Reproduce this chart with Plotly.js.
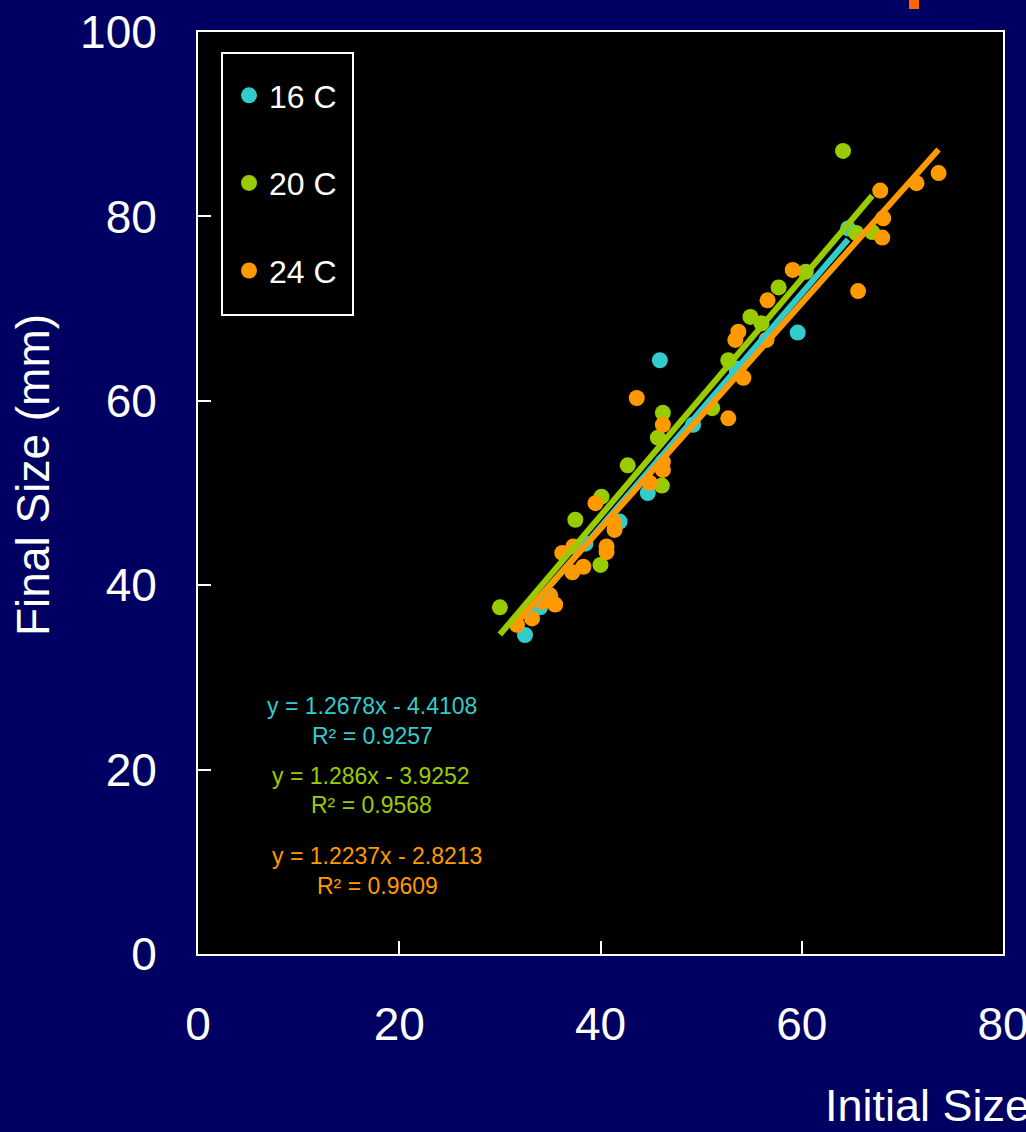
<!DOCTYPE html>
<html>
<head>
<meta charset="utf-8">
<script src="https://cdn.plot.ly/plotly-3.0.1.min.js"></script>
<style>html,body{margin:0;padding:0;background:#000062;}#chart{width:1026px;height:1132px;}</style>
</head>
<body>
<div id="chart"></div>
<script>
// ---- data ----
const seriesNames = ["16 C", "20 C", "24 C"];

const x16 = [32.5, 34.0, 38.5, 41.9, 44.7, 45.9, 49.2, 53.5, 59.6, 64.6];
const y16 = [34.6, 37.6, 44.5, 46.9, 50.0, 64.4, 57.4, 63.5, 67.4, 78.7];

const x20 = [30.0, 37.5, 40.0, 40.1, 42.7, 45.7, 46.2, 46.1, 51.1, 52.7, 54.9, 56.0, 57.7, 60.4, 64.1, 65.4, 67.0];
const y20 = [37.6, 47.1, 42.2, 49.6, 53.0, 56.0, 58.7, 50.8, 59.2, 64.4, 69.1, 68.4, 72.3, 74.0, 87.1, 78.2, 78.3];

const x24 = [31.7, 33.2, 34.2, 35.0, 35.5, 36.2, 37.3, 37.2, 38.3, 39.5, 40.6, 40.6, 41.4, 41.3, 43.6, 44.9, 46.2, 46.2, 46.2,
             52.7, 53.4, 53.7, 54.2, 56.5, 56.6, 59.1, 65.6, 67.8, 68.0, 68.1, 71.4, 73.6];
const y24 = [35.7, 36.4, 38.2, 38.9, 37.9, 43.5, 44.2, 41.4, 42.0, 48.9, 44.2, 43.6, 46.0, 46.9, 60.3, 51.1, 57.4, 53.4, 52.5,
             58.1, 66.6, 67.5, 62.5, 66.6, 70.9, 74.2, 71.9, 82.8, 77.7, 79.8, 83.6, 84.7];

const slopes = [1.2678, 1.286, 1.2237];
const intercepts = [-4.4108, -3.9252, -2.8213];
const r2s = ["0.9257", "0.9568", "0.9609"];

const xTicks = [0, 20, 40, 60, 80];
const yTicks = [0, 20, 40, 60, 80, 100];
const xTitle = "Initial Size (mm)";
const yTitle = "Final Size (mm)";

// ---- styles ----
const colors = ["#33CCCC", "#99CC00", "#FF9900"];
const FONT = "Liberation Sans, Arial, sans-serif";
const xs = [x16, x20, x24], ys = [y16, y20, y24];

// plot geometry (pixels) for annotation placement
const L = 198, R = 1003, T = 32, B = 954;
const px = v => (v - L) / (R - L);
const py = v => (B - v) / (B - T);

const traces = [];
for (let i = 0; i < 3; i++) {
  traces.push({
    type: "scatter", mode: "markers", name: seriesNames[i],
    x: xs[i], y: ys[i],
    marker: {color: colors[i], size: 16},
    legendgroup: "g" + i, showlegend: true, hoverinfo: "x+y"
  });
}
for (let i = 0; i < 3; i++) {
  const xmin = Math.min(...xs[i]), xmax = Math.max(...xs[i]);
  traces.push({
    type: "scatter", mode: "lines", name: seriesNames[i] + " fit",
    x: [xmin, xmax],
    y: [slopes[i] * xmin + intercepts[i], slopes[i] * xmax + intercepts[i]],
    line: {color: colors[i], width: 6},
    showlegend: false, hoverinfo: "skip"
  });
}

const eqPos = [[372, 706, 736], [371, 776, 805], [377, 856, 886]];
const annotations = [];
for (let i = 0; i < 3; i++) {
  const sign = intercepts[i] < 0 ? " - " : " + ";
  annotations.push({
    xref: "paper", yref: "paper", x: px(eqPos[i][0]), y: py(eqPos[i][1]),
    text: "y = " + slopes[i] + "x" + sign + Math.abs(intercepts[i]),
    showarrow: false, xanchor: "center", yanchor: "middle",
    font: {family: FONT, size: 23, color: colors[i]}
  });
  annotations.push({
    xref: "paper", yref: "paper", x: px(eqPos[i][0]), y: py(eqPos[i][2]),
    text: "R² = " + r2s[i],
    showarrow: false, xanchor: "center", yanchor: "middle",
    font: {family: FONT, size: 23, color: colors[i]}
  });
}
annotations.push({
  xref: "paper", yref: "paper", x: px(823), y: py(1105),
  text: xTitle, showarrow: false, xanchor: "left", yanchor: "middle",
  font: {family: FONT, size: 45, color: "#ffffff"}
});
annotations.push({
  xref: "paper", yref: "paper", x: px(33), y: py(475),
  text: yTitle, showarrow: false, xanchor: "center", yanchor: "middle", textangle: -90,
  font: {family: FONT, size: 46, color: "#ffffff"}
});

const axisCommon = {
  showgrid: false, zeroline: false, showline: true, linecolor: "#ffffff", linewidth: 2,
  mirror: true, ticks: "inside", ticklen: 13, tickwidth: 2, tickcolor: "#ffffff",
  tickfont: {family: FONT, size: 46, color: "#ffffff"}, fixedrange: true,
  ticklabeloverflow: "allow"
};

const layout = {
  width: 1026, height: 1132,
  paper_bgcolor: "#000062", plot_bgcolor: "#000000",
  margin: {l: L, r: 1026 - R, t: T, b: 1132 - B, pad: 0},
  showlegend: true,
  legend: {
    x: px(229), y: py(68), xanchor: "left", yanchor: "top",
    bgcolor: "rgba(0,0,0,0)", borderwidth: 0,
    font: {family: FONT, size: 32, color: "#ffffff"},
    traceorder: "grouped", tracegroupgap: 43, itemwidth: 30
  },
  xaxis: Object.assign({}, axisCommon, {range: [0, 80], tickvals: xTicks, ticktext: xTicks.map(String), ticklabelstandoff: 29}),
  yaxis: Object.assign({}, axisCommon, {range: [0, 100], tickvals: yTicks, ticktext: yTicks.map(String), ticklabelstandoff: 30}),
  annotations: annotations,
  shapes: [
    {
      type: "rect", xref: "paper", yref: "paper", layer: "below",
      x0: px(222), x1: px(353), y0: py(315), y1: py(53),
      fillcolor: "#000000", line: {color: "#ffffff", width: 2}
    },
    {
      type: "rect", xref: "paper", yref: "paper",
      x0: px(909), x1: px(919), y0: py(9), y1: py(0),
      fillcolor: "#FF6600", line: {width: 0}
    }
  ]
};

Plotly.newPlot("chart", traces, layout, {staticPlot: true, displayModeBar: false});
</script>
</body>
</html>
